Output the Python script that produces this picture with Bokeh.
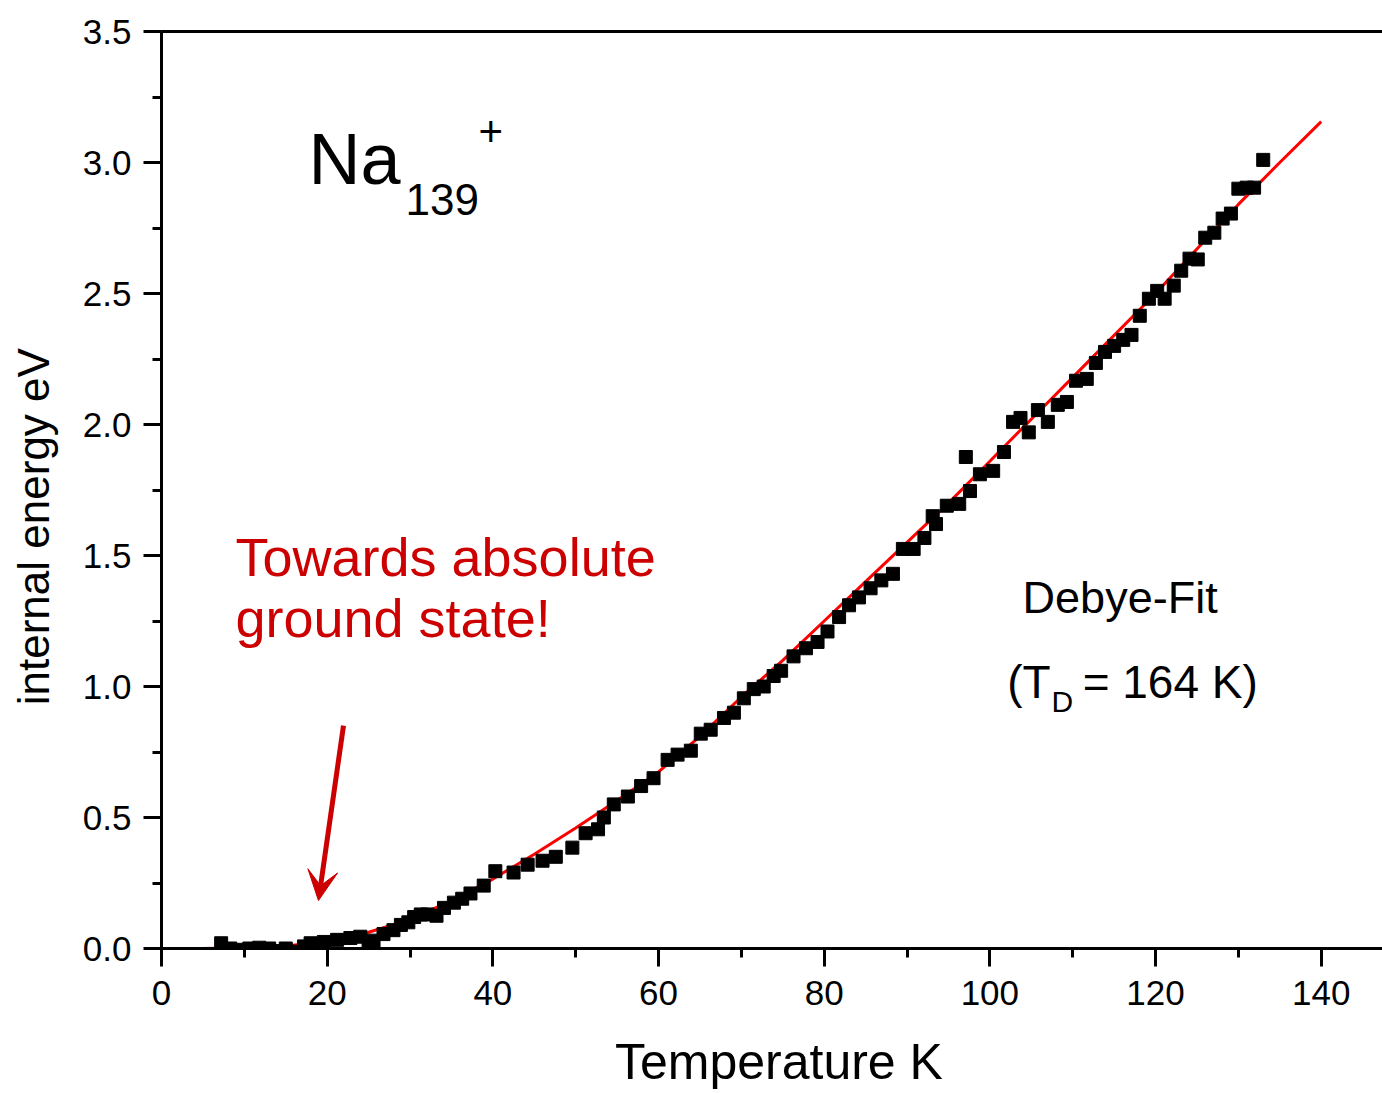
import math
from bokeh.plotting import figure
from bokeh.models import (Range1d, LinearAxis, Label, Arrow, VeeHead,
                          SingleIntervalTicker, NumeralTickFormatter)
from bokeh.embed import file_html
from bokeh.resources import INLINE

# ---------------- data ----------------
temperature_K = [7.2, 8.3, 9.5, 10.6, 11.8, 13.0, 14.1, 15.0, 16.0, 17.2, 18.0, 19.6,
                 21.2, 22.8, 24.0, 25.0, 25.6, 26.8, 28.0, 28.9, 29.8, 30.5, 31.3,
                 32.1, 33.2, 34.1, 35.3, 36.3, 37.3, 38.9, 40.3, 42.5, 44.2, 46.0,
                 47.6, 49.6, 51.2, 52.7, 53.4, 54.6, 56.3, 57.9, 59.4, 61.1, 62.3,
                 63.9, 65.1, 66.3, 67.9, 69.1, 70.3, 71.5, 72.7, 73.9, 74.8, 76.3,
                 77.8, 79.2, 80.4, 81.8, 83.0, 84.2, 85.6, 86.9, 88.3, 89.5, 90.8,
                 92.1, 93.1, 93.5, 94.8, 96.3, 97.1, 97.6, 98.8, 100.4, 101.7, 102.8,
                 103.7, 104.7, 105.8, 107.0, 108.2, 109.3, 110.4, 111.7, 112.8, 113.9,
                 115.0, 116.1, 117.1, 118.1, 119.2, 120.2, 121.1, 122.2, 123.1, 124.1,
                 125.1, 126.0, 127.1, 128.1, 129.1, 130.0, 131.0, 131.9, 133.0]
energy_eV = [0.02, 0.0, -0.005, 0.0, 0.003, 0.0, -0.01, 0.0, -0.012, 0.008, 0.02, 0.025,
             0.033, 0.04, 0.045, 0.01, 0.03, 0.055, 0.07, 0.09, 0.1, 0.12, 0.13,
             0.13, 0.125, 0.155, 0.175, 0.19, 0.21, 0.24, 0.295, 0.29, 0.32, 0.335,
             0.35, 0.385, 0.44, 0.455, 0.5, 0.55, 0.58, 0.62, 0.65, 0.72, 0.74,
             0.755, 0.82, 0.835, 0.88, 0.9, 0.955, 0.99, 1.0, 1.04, 1.06, 1.115,
             1.146, 1.17, 1.21, 1.265, 1.31, 1.34, 1.375, 1.405, 1.43, 1.525, 1.525,
             1.567, 1.65, 1.62, 1.69, 1.697, 1.876, 1.746, 1.81, 1.823, 1.895, 2.01,
             2.025, 1.97, 2.055, 2.01, 2.075, 2.086, 2.167, 2.174, 2.235, 2.277,
             2.3, 2.323, 2.342, 2.415, 2.48, 2.51, 2.48, 2.53, 2.587, 2.633,
             2.63, 2.713, 2.732, 2.786, 2.805, 2.9, 2.904, 2.904, 3.01]

fit_T = [1, 5, 10, 15, 20, 25, 30, 35, 40, 45, 50, 55, 60, 65, 70, 75, 80, 85, 90,
         95, 100, 105, 110, 115, 120, 125, 130, 135, 140]
fit_E = [0.0, 0.0, 0.003, 0.01, 0.027, 0.062, 0.11, 0.183, 0.265, 0.36, 0.46, 0.565,
         0.674, 0.81, 0.96, 1.1, 1.25, 1.40, 1.55, 1.70, 1.86, 2.02, 2.18, 2.34, 2.50,
         2.67, 2.84, 3.0, 3.156]

x_ticks_step = 20
y_ticks_step = 0.5

FONT = "Liberation Sans"
DARKRED = "#cc0000"
NB = "\u00a0"

p = figure(width=1382, height=1093, output_backend="svg", toolbar_location=None,
           x_range=Range1d(0, 147.4), y_range=Range1d(0, 3.5),
           min_border_left=161, min_border_right=0, min_border_top=31,
           min_border_bottom=145, x_axis_label=NB + "Temperature K",
           y_axis_label="internal energy eV" + NB * 6)
p.outline_line_color = None
p.xgrid.visible = False
p.ygrid.visible = False
p.background_fill_color = "white"
p.border_fill_color = "white"

for ax in (p.xaxis[0], p.yaxis[0]):
    ax.axis_line_width = 3
    ax.major_tick_line_width = 3
    ax.minor_tick_line_width = 3
    ax.major_tick_in = 0
    ax.major_tick_out = 18
    ax.minor_tick_in = 0
    ax.minor_tick_out = 9
    ax.major_label_text_font = FONT
    ax.major_label_text_font_size = "35px"
    ax.major_label_text_color = "black"
    ax.axis_label_text_font = FONT
    ax.axis_label_text_font_style = "normal"
    ax.axis_label_text_color = "black"

p.xaxis[0].ticker = SingleIntervalTicker(interval=x_ticks_step, num_minor_ticks=2)
p.yaxis[0].ticker = SingleIntervalTicker(interval=y_ticks_step, num_minor_ticks=2)
p.yaxis[0].formatter = NumeralTickFormatter(format="0.0")
p.xaxis[0].major_label_standoff = 14
p.yaxis[0].major_label_standoff = 12
p.xaxis[0].axis_label_text_font_size = "50px"
p.xaxis[0].axis_label_standoff = 26
p.yaxis[0].axis_label_text_font_size = "44px"
p.yaxis[0].axis_label_standoff = 22

top = LinearAxis(major_label_text_font_size="0px", major_tick_out=0, major_tick_in=0,
                 minor_tick_out=0, minor_tick_in=0, axis_line_width=3)
p.add_layout(top, "above")

# fit line and data
p.line(fit_T, fit_E, line_color="#ff0000", line_width=3)
p.scatter(temperature_K, energy_eV, marker="square", size=13, fill_color="black",
          line_color="black")

# annotations
def lab(x, y, text, size, color="black"):
    p.add_layout(Label(x=x, y=y, text=text, text_font=FONT, text_font_size=size,
                       text_color=color, text_align="left", text_baseline="alphabetic"))

lab(17.75, 3.015, "Na", "72px")
lab(29.46, 2.859, "139", "44px")
lab(38.27, 3.118, "+", "42px")
lab(8.93, 1.495, "Towards absolute", "54px", DARKRED)
lab(8.93, 1.262, "ground state!", "54px", DARKRED)
lab(103.95, 1.34, "Debye-Fit", "45px")
lab(102.1, 1.016, "(T", "46px")
lab(107.45, 0.941, "D", "30px")
lab(111.2, 1.016, "= 164 K)", "46px")

p.add_layout(Arrow(x_start=21.97, y_start=0.851, x_end=18.95, y_end=0.183,
                   line_color=DARKRED, line_width=5,
                   end=VeeHead(size=30, fill_color=DARKRED, line_color=DARKRED)))

open("out.html", "w").write(file_html(p, INLINE))
